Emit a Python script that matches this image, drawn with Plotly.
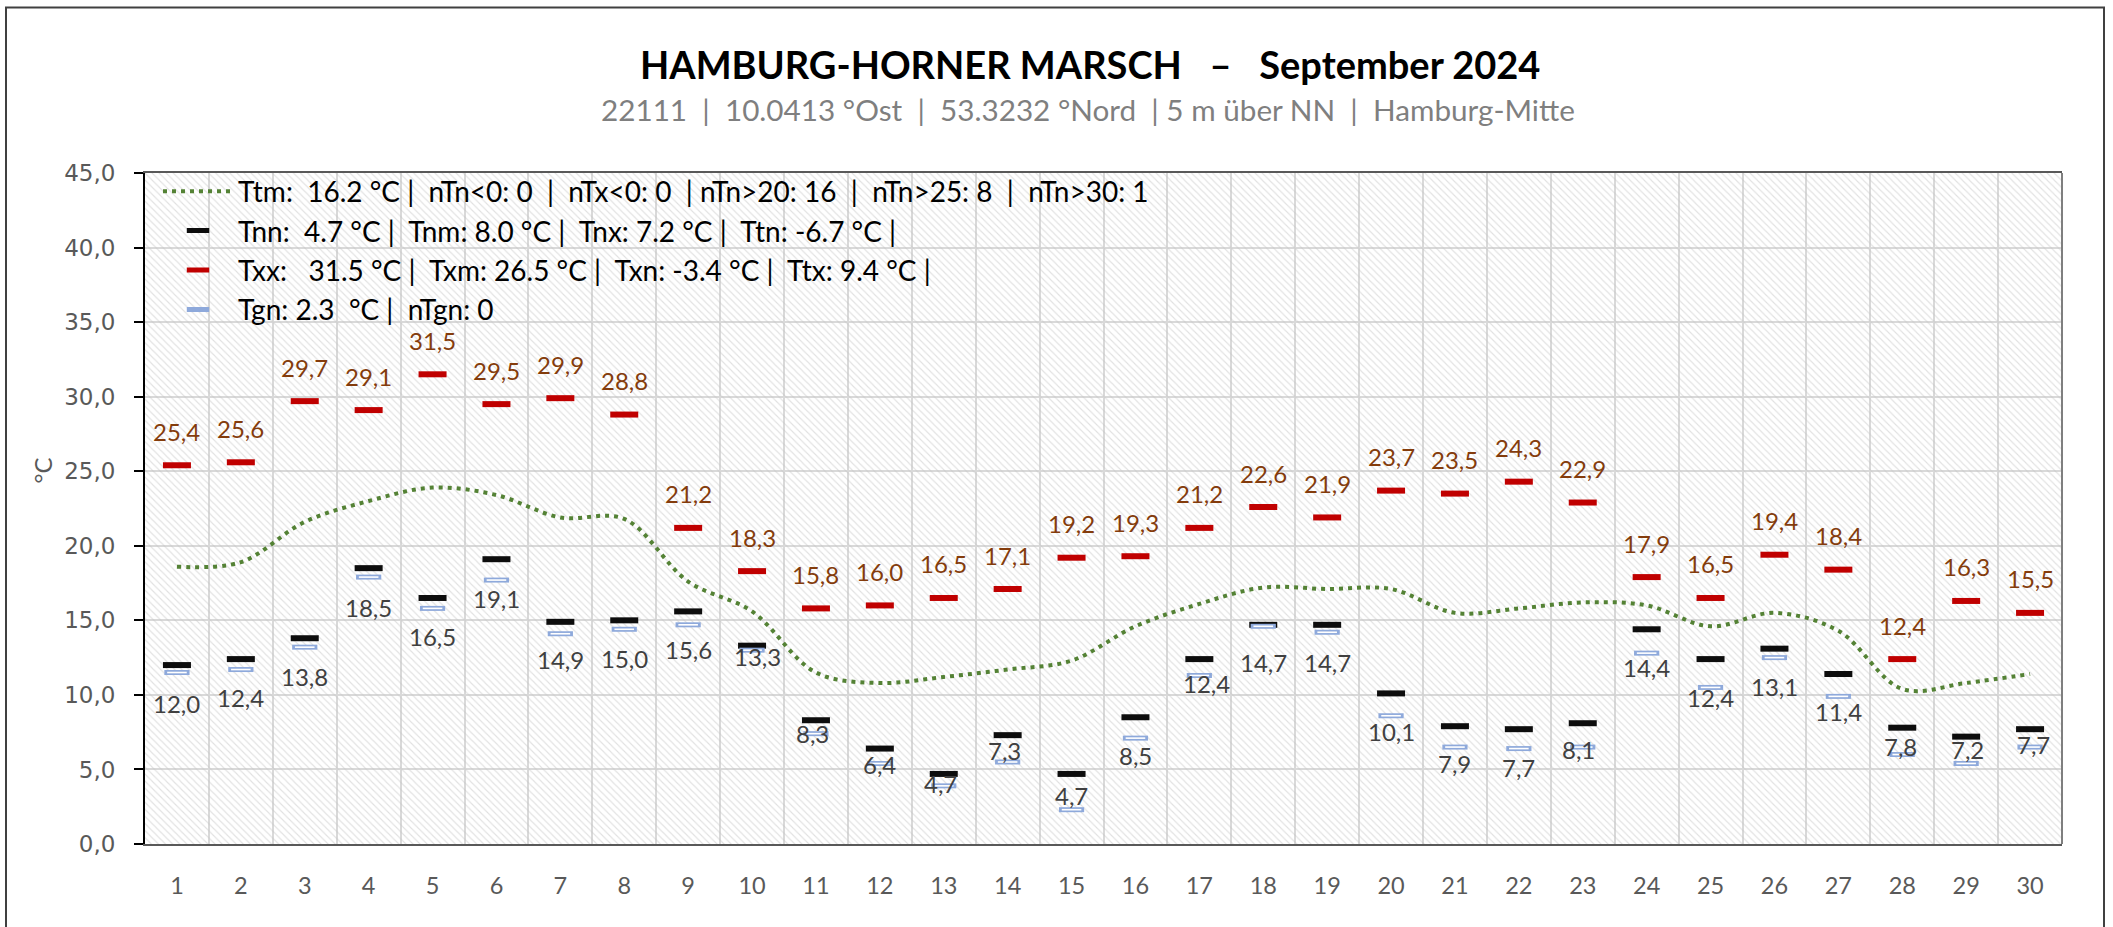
import plotly.graph_objects as go

# ---------------- data ----------------
DAYS = [1, 2, 3, 4, 5, 6, 7, 8, 9, 10, 11, 12, 13, 14, 15,
        16, 17, 18, 19, 20, 21, 22, 23, 24, 25, 26, 27, 28, 29, 30]
TX = [25.4, 25.6, 29.7, 29.1, 31.5, 29.5, 29.9, 28.8, 21.2, 18.3, 15.8, 16.0, 16.5, 17.1, 19.2,
      19.3, 21.2, 22.6, 21.9, 23.7, 23.5, 24.3, 22.9, 17.9, 16.5, 19.4, 18.4, 12.4, 16.3, 15.5]
TN = [12.0, 12.4, 13.8, 18.5, 16.5, 19.1, 14.9, 15.0, 15.6, 13.3, 8.3, 6.4, 4.7, 7.3, 4.7,
      8.5, 12.4, 14.7, 14.7, 10.1, 7.9, 7.7, 8.1, 14.4, 12.4, 13.1, 11.4, 7.8, 7.2, 7.7]
TGN = [11.5, 11.7, 13.2, 17.9, 15.8, 17.7, 14.1, 14.4, 14.7, 13.0, 7.4, 5.4, 3.9, 5.5, 2.3,
       7.1, 11.3, 14.6, 14.2, 8.6, 6.5, 6.4, 6.5, 12.8, 10.5, 12.5, 9.9, 6.0, 5.4, 6.5]
TTM = [18.6, 18.9, 21.6, 23.0, 23.9, 23.4, 21.9, 21.8, 17.6, 15.6, 11.5, 10.8, 11.2, 11.7, 12.3,
       14.6, 16.1, 17.2, 17.1, 17.1, 15.5, 15.8, 16.2, 16.0, 14.6, 15.5, 14.3, 10.4, 10.8, 11.4]

LEGEND_TTM = "Ttm:  16.2 °C |  nTn&lt;0: 0  |  nTx&lt;0: 0  | nTn&gt;20: 16  |  nTn&gt;25: 8  |  nTn&gt;30: 1"
LEGEND_TN = "Tnn:  4.7 °C |  Tnm: 8.0 °C |  Tnx: 7.2 °C |  Ttn: -6.7 °C |"
LEGEND_TX = "Txx:   31.5 °C |  Txm: 26.5 °C |  Txn: -3.4 °C |  Ttx: 9.4 °C |"
LEGEND_TGN = "Tgn: 2.3  °C |  nTgn: 0"

TITLE = "HAMBURG-HORNER MARSCH   –   September 2024"
SUBTITLE = "22111  |  10.0413 °Ost  |  53.3232 °Nord  | 5 m über NN  |  Hamburg-Mitte"
Y_TITLE = "°C"

X_RANGE = [0.5, 30.5]
Y_RANGE = [0, 45]

# label placement (style, pixels)
TX_LABEL_DY = 34
TN_LABEL_DY = [-38, -38, -38, -39, -39, -39, -38, -38, -38, -11, -13, -16, -10, -15, -22,
               -38, -24, -38, -38, -38, -37, -38, -26, -38, -38, -38, -37, -19, -13, -15]
TN_LABEL_DX = [0, 0, 0, 0, 0, 0, 0, 0, 0, 5, -3, 0, -3, -3, 0,
               0, 7, 0, 0, 0, 0, 0, -4, 0, 0, 0, 0, -2, 1, 3]

LATO = "Lato, 'Open Sans', sans-serif"
DEJAVU = "'DejaVu Sans', Verdana, sans-serif"

W, H = 2113, 927
ML, MR, MT, MB = 145, 51, 172.5, 83.4
PW, PH = W - ML - MR, H - MT - MB


def px_x(px):
    return (px - ML) / PW


def px_y(py):
    return (H - MB - py) / PH


def fmt(v):
    return f"{v:.1f}".replace(".", ",")


fig = go.Figure()

# hatched plot background
fig.add_trace(go.Scatter(
    x=[X_RANGE[0], X_RANGE[1], X_RANGE[1], X_RANGE[0], X_RANGE[0]],
    y=[Y_RANGE[0], Y_RANGE[0], Y_RANGE[1], Y_RANGE[1], Y_RANGE[0]],
    mode="none", fill="toself", fillcolor="rgba(0,0,0,0)",
    fillpattern=dict(shape="\\", fgcolor="#c4c4c4", bgcolor="rgba(0,0,0,0)",
                     size=5, solidity=0.22, fillmode="overlay"),
    hoverinfo="skip", showlegend=False))

fig.add_trace(go.Scatter(
    x=DAYS, y=TTM, mode="lines", name=LEGEND_TTM,
    line=dict(color="#548235", width=4, dash="4px,5px", shape="spline", smoothing=1.0)))

fig.add_trace(go.Scatter(
    x=DAYS, y=TN, mode="markers", name=LEGEND_TN,
    marker=dict(symbol="line-ew", size=20, line=dict(color="#0d0d0d", width=6))))

fig.add_trace(go.Scatter(
    x=DAYS, y=TX, mode="markers", name=LEGEND_TX,
    marker=dict(symbol="line-ew", size=20, line=dict(color="#C00000", width=6))))

fig.add_trace(go.Scatter(
    x=DAYS, y=TGN, mode="markers", name=LEGEND_TGN,
    marker=dict(symbol="line-ew", size=18, line=dict(color="#8EA9DB", width=5))))
fig.add_trace(go.Scatter(
    x=DAYS, y=TGN, mode="markers", showlegend=False, hoverinfo="skip",
    marker=dict(symbol="line-ew", size=14, line=dict(color="#ffffff", width=1.6))))

annotations = []
for d, v in zip(DAYS, TX):
    annotations.append(dict(x=d, y=v, xref="x", yref="y", text=fmt(v), showarrow=False,
                            yshift=TX_LABEL_DY, xanchor="center", yanchor="middle",
                            font=dict(family=LATO, size=24, color="#843C0C")))
for d, v, dy, dx in zip(DAYS, TN, TN_LABEL_DY, TN_LABEL_DX):
    annotations.append(dict(x=d, y=v, xref="x", yref="y", text=fmt(v), showarrow=False,
                            yshift=dy, xshift=dx, xanchor="center", yanchor="middle",
                            font=dict(family=LATO, size=24, color="#404040")))

annotations.append(dict(x=px_x(1090), y=px_y(63), xref="paper", yref="paper",
                        text="<b>" + TITLE + "</b>", showarrow=False,
                        xanchor="center", yanchor="middle",
                        font=dict(family=LATO, size=38, color="#000000")))
annotations.append(dict(x=px_x(1088), y=px_y(109), xref="paper", yref="paper",
                        text=SUBTITLE, showarrow=False,
                        xanchor="center", yanchor="middle",
                        font=dict(family=LATO, size=29.7, color="#7F7F7F")))
annotations.append(dict(x=px_x(42), y=px_y(470), xref="paper", yref="paper",
                        text=Y_TITLE, showarrow=False, textangle=-90,
                        xanchor="center", yanchor="middle",
                        font=dict(family=LATO, size=24, color="#595959")))

shapes = [
    dict(type="line", xref="paper", yref="paper", x0=1, x1=1, y0=0, y1=1,
         line=dict(color="#7F7F7F", width=2), layer="above"),
    dict(type="rect", xref="paper", yref="paper",
         x0=px_x(6), x1=px_x(2104), y0=px_y(1000), y1=px_y(7),
         line=dict(color="#404040", width=2), fillcolor="rgba(0,0,0,0)", layer="above"),
]

fig.update_layout(
    width=W, height=H,
    margin=dict(l=ML, r=MR, t=MT, b=MB, autoexpand=False),
    paper_bgcolor="white", plot_bgcolor="white",
    separators=", ",
    showlegend=True,
    legend=dict(x=px_x(158), y=1 + 6.5 / PH, xanchor="left", yanchor="top",
                bgcolor="rgba(0,0,0,0)", borderwidth=0,
                font=dict(family=LATO, size=28, color="#000000"),
                itemwidth=70, traceorder="normal"),
    xaxis=dict(range=X_RANGE, tickmode="linear", tick0=1, dtick=1,
               showgrid=False, zeroline=False,
               showline=True, linecolor="#595959", linewidth=2, mirror=True,
               ticks="", ticklabelstandoff=20,
               tickfont=dict(family=LATO, size=23.5, color="#595959"),
               minor=dict(tick0=0.5, dtick=1, showgrid=True, gridcolor="#D9D9D9", gridwidth=2)),
    yaxis=dict(range=Y_RANGE, tickmode="linear", tick0=0, dtick=5, tickformat=".1f",
               showgrid=True, gridcolor="#D9D9D9", gridwidth=2, zeroline=False,
               showline=True, linecolor="#000000", linewidth=2,
               ticks="outside", ticklen=9, tickwidth=2, tickcolor="#000000",
               ticklabelstandoff=14,
               tickfont=dict(family=DEJAVU, size=23, color="#595959")),
    annotations=annotations,
    shapes=shapes,
)

fig.write_html("out.html", config={"displayModeBar": False},
               post_script="document.body.style.margin='0';document.body.style.overflow='hidden';")
